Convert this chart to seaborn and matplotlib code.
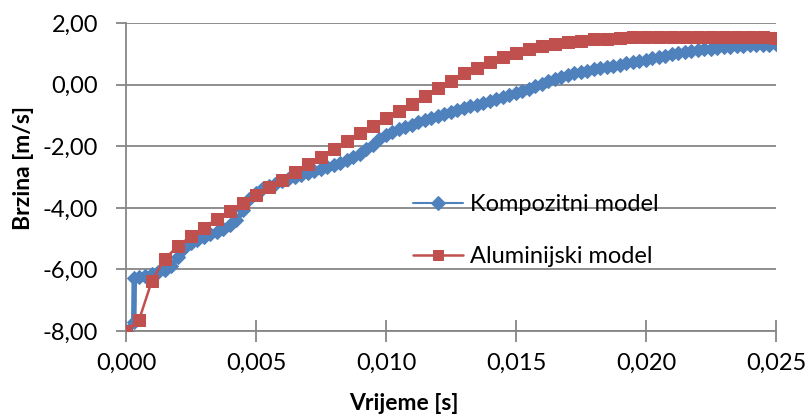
import numpy as np
import pandas as pd
import seaborn as sns
import matplotlib.pyplot as plt
from matplotlib.ticker import FuncFormatter

sns.set_theme(style='white')
plt.rcParams['font.family'] = ['Lato', 'DejaVu Sans']
plt.rcParams['text.color'] = 'black'
plt.rcParams['axes.labelcolor'] = 'black'

# Aluminijski model: uzorak svakih 0,0005 s
alu_t = np.round(np.arange(0, 0.02501, 0.0005), 5)
alu_v = [-8.00, -7.65, -6.36, -5.65, -5.24, -4.92, -4.65, -4.35, -4.10, -3.83,
         -3.58, -3.33, -3.08, -2.82, -2.57, -2.33, -2.08, -1.83, -1.58, -1.33,
         -1.09, -0.85, -0.61, -0.36, -0.10, 0.14, 0.39, 0.55, 0.73, 0.89,
         1.03, 1.15, 1.26, 1.33, 1.39, 1.44, 1.48, 1.50, 1.53, 1.54,
         1.55, 1.55, 1.55, 1.55, 1.55, 1.55, 1.55, 1.55, 1.55, 1.55,
         1.53]

# Kompozitni model: gusti uzorak (pocetni skok pa svakih 0,00025 s)
komp_t = [0.0, 0.0003, 0.00032] + list(np.round(np.arange(0.0005, 0.02501, 0.00025), 5))
komp_v = [-8.00, -7.72, -6.28,
          -6.26, -6.20,
          -6.15, -6.08, -6.02, -5.90,
          -5.58, -5.30, -5.15, -5.05,
          -4.95, -4.86, -4.78, -4.68,
          -4.55, -4.40, -4.08, -3.72,
          -3.52, -3.40, -3.30, -3.21,
          -3.13, -3.05, -2.98, -2.92,
          -2.85, -2.80, -2.74, -2.68,
          -2.62, -2.54, -2.45, -2.36,
          -2.25, -2.10, -1.94, -1.77,
          -1.64, -1.54, -1.45, -1.37,
          -1.30, -1.22, -1.15, -1.08,
          -1.01, -0.94, -0.88, -0.82,
          -0.76, -0.70, -0.65, -0.58,
          -0.52, -0.45, -0.39, -0.33,
          -0.27, -0.20, -0.12, -0.05,
          0.03, 0.11, 0.18, 0.25,
          0.32, 0.37, 0.42, 0.46,
          0.50, 0.54, 0.58, 0.62,
          0.66, 0.70, 0.74, 0.78,
          0.81, 0.86, 0.90, 0.95,
          0.99, 1.03, 1.06, 1.09,
          1.12, 1.15, 1.17, 1.20,
          1.22, 1.24, 1.25, 1.27,
          1.28, 1.29, 1.30, 1.31,
          1.32]

komp_df = pd.DataFrame({'Vrijeme': komp_t, 'Brzina': komp_v})
alu_df = pd.DataFrame({'Vrijeme': alu_t, 'Brzina': alu_v})

blue = '#4F81BD'
red = '#C0504D'
grid_c = '#868686'

fig, ax = plt.subplots(figsize=(8.09, 4.19), dpi=100)
fig.subplots_adjust(left=0.1557, right=0.9592, bottom=0.21, top=0.9444)

# gusta plava traka: debela linija + rombovi
sns.lineplot(data=komp_df, x='Vrijeme', y='Brzina', ax=ax, color=blue,
             marker='D', markersize=7.5, markeredgecolor=blue, linewidth=4,
             label='Kompozitni model', zorder=3)
ax.lines[-1].set_solid_joinstyle('round')
sns.lineplot(data=alu_df, x='Vrijeme', y='Brzina', ax=ax, color=red,
             marker='s', markersize=8, markeredgecolor=red, linewidth=1.8,
             label='Aluminijski model', zorder=4)

ax.set_xlim(0, 0.025)
ax.set_ylim(-8, 2)
ax.set_xticks([0, 0.005, 0.01, 0.015, 0.02, 0.025])
ax.set_yticks([-8, -6, -4, -2, 0, 2])
ax.xaxis.set_major_formatter(FuncFormatter(lambda v, p: f'{v:.3f}'.replace('.', ',')))
ax.yaxis.set_major_formatter(FuncFormatter(lambda v, p: f'{v:.2f}'.replace('.', ',')))

ax.yaxis.grid(True, color=grid_c, linewidth=1.3)
ax.xaxis.grid(False)
ax.set_axisbelow(True)
for s in ['top', 'right']:
    ax.spines[s].set_visible(False)
for s in ['left', 'bottom']:
    ax.spines[s].set_color(grid_c)
    ax.spines[s].set_linewidth(1.3)

ax.tick_params(axis='x', direction='inout', length=16, width=1.3, color=grid_c,
               labelcolor='black', labelsize=17, pad=8, bottom=True)
ax.tick_params(axis='y', direction='out', length=7, width=1.3, color=grid_c,
               labelcolor='black', labelsize=17, pad=13, left=True)

ax.set_xlabel('Vrijeme [s]', fontsize=16.5, fontweight='bold', va='center')
ax.set_ylabel('Brzina [m/s]', fontsize=16.5, fontweight='bold', va='center')
ax.xaxis.set_label_coords(0.428, -0.234)
ax.yaxis.set_label_coords(-0.157, 0.53)

leg = ax.legend(loc='center left', bbox_to_anchor=(0.441, 0.326), frameon=False,
                fontsize=17, borderpad=0, borderaxespad=0, handlelength=2.15,
                handletextpad=0.3, labelspacing=1.3)
for h in leg.legend_handles:
    h.set_markersize(7)
leg.legend_handles[0].set_linewidth(1.5)

fig.savefig('out.png', dpi=100)
